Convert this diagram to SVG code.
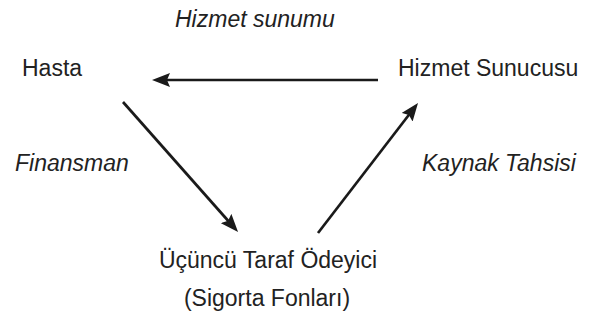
<svg xmlns="http://www.w3.org/2000/svg" width="593" height="325" viewBox="0 0 593 325">
  <style>
    .lbl { font-family: "Liberation Sans", Arial, sans-serif; font-size: 23px; fill: #222; }
    .it { font-style: italic; }
    .conn { stroke: #1a1a1a; stroke-width: 2.7; fill: none; marker-end: url(#ah); }
  </style>
  <defs>
    <marker id="ah" markerUnits="userSpaceOnUse" markerWidth="18" markerHeight="14" viewBox="0 0 18 14" refX="6" refY="7" orient="auto">
      <path d="M0,0 L18,7 L0,14 L3,7 z" fill="#1a1a1a"/>
    </marker>
  </defs>
  <rect width="593" height="325" fill="#fff"/>
  <g id="hasta"><text class="lbl" x="22" y="76">Hasta</text></g>
  <g id="hizmet-sunucusu"><text class="lbl" x="398" y="76">Hizmet Sunucusu</text></g>
  <g id="ucuncu-taraf"><text class="lbl" x="268" y="268" text-anchor="middle">Üçüncü Taraf Ödeyici</text><text class="lbl" x="267" y="306" text-anchor="middle">(Sigorta Fonları)</text></g>
  <g id="connectors">
    <line class="conn" x1="378" y1="80" x2="164" y2="80"/>
    <line class="conn" x1="123" y1="102" x2="230.1" y2="223"/>
    <line class="conn" x1="318" y1="233" x2="410.7" y2="112.5"/>
    <text class="lbl it" x="175" y="27">Hizmet sunumu</text>
    <text class="lbl it" x="15" y="171">Finansman</text>
    <text class="lbl it" x="422" y="171">Kaynak Tahsisi</text>
  </g>
</svg>
